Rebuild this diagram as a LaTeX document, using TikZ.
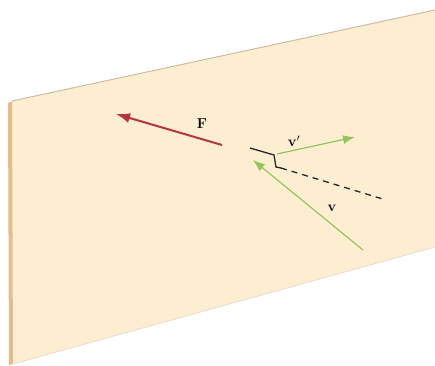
\documentclass[tikz,border=0pt]{standalone}
\usetikzlibrary{arrows.meta}
\definecolor{panel}{HTML}{FDEED2}
\definecolor{edgetan}{HTML}{E4BC8E}
\definecolor{rimline}{HTML}{CDBCA2}
\definecolor{fred}{HTML}{B8343E}
\definecolor{vgreen}{HTML}{93C45E}
\begin{document}
\begin{tikzpicture}[x=1pt,y=-1pt,
  vec/.style={-{Latex[length=12pt,width=9pt]}},
  lbl/.style={font=\Large}]
\useasboundingbox (0,0) rectangle (435,365);
\fill[white] (0,0) rectangle (435,365);
% panel
\fill[panel] (12,101) -- (435,10) -- (435,247) -- (13,364) -- cycle;
\draw[rimline,line width=1pt] (12,101) -- (435,10);
\draw[rimline!60,line width=0.6pt] (13,364) -- (435,247);
\fill[edgetan] (8,103) -- (12,101) -- (13,364) -- (9,365) -- cycle;
% points
\coordinate (Fs) at (222,145);
\coordinate (Ft) at (116,114);
\coordinate (n0) at (250,148);
\coordinate (n1) at (274,155);
\coordinate (n2) at (276,167);
\coordinate (n3) at (281,168);
\coordinate (n4) at (386,200);
\coordinate (vps) at (277,154);
\coordinate (vpt) at (355,137);
\coordinate (vs) at (363,250);
\coordinate (vt) at (253,160);
% force
\draw[fred,line width=2pt,-{Latex[length=14pt,width=10pt]}] (Fs) -- (Ft);
\node[lbl] (Flab) at (202,124) {$\mathbf{F}$};
% normal / dashed line
\draw[black!85,line width=1.3pt] (n0) -- (n1) -- (n2) -- (n3);
\draw[black!85,line width=1.3pt,dash pattern=on 6pt off 5pt] (n3) -- (n4);
% velocities
\draw[vec,vgreen,line width=1.2pt] (vps) -- (vpt);
\draw[vec,vgreen,line width=1.2pt] (vs) -- (vt);
\node[lbl] (vplab) at (294,141) {$\mathbf{v}'$};
\node[lbl] (vlab) at (332,208) {$\mathbf{v}$};
\end{tikzpicture}
\end{document}
